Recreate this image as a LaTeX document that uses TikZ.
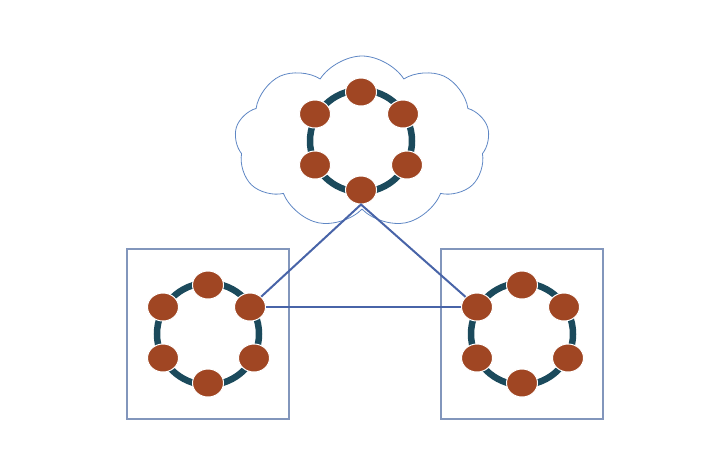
\documentclass[tikz,border=0pt]{standalone}
\usetikzlibrary{shapes, shapes.symbols, positioning}
\definecolor{peercolor}{RGB}{160, 70, 35}
\definecolor{ringcolor}{RGB}{27, 74, 92}
\definecolor{linkcolor}{RGB}{72, 100, 168}
\definecolor{boxcolor}{RGB}{130, 150, 188}
\definecolor{cloudcolor}{RGB}{95, 135, 196}
\tikzset{peer/.style={ellipse, draw=white, line width=1pt, fill=peercolor, minimum width=31pt, minimum height=28pt, inner sep=0pt}}
\tikzset{ring/.style={draw=ringcolor, line width=6.5pt}}
\tikzset{site/.style={draw=boxcolor, line width=1.2pt, fill=white, minimum width=162pt, minimum height=170pt}}
\tikzset{link/.style={draw=linkcolor, line width=2pt}}

\begin{document}
\begin{tikzpicture}[x=1pt, y=-1pt]
	\useasboundingbox (0,0) rectangle (725,475);
	
	%%% NODES %%%
	
	% CLOUD
	\node[cloud, cloud puffs=9, cloud puff arc=115, aspect=1.5, draw=cloudcolor, line width=0.8pt, minimum width=255pt, minimum height=172pt] at (362,142) (cloud) {};
	\draw[ring] (361,141) circle (51);
	\node[peer] at (361,92) (ctop) {};
	\node[peer] at (403,114) (cur) {};
	\node[peer] at (407,165) (clr) {};
	\node[peer] at (361,190) (cbot) {};
	\node[peer] at (315,165) (cll) {};
	\node[peer] at (315,114) (cul) {};
	
	% LEFT SITE
	\node[site] at (208,334) (leftsite) {};
	\draw[ring] (208,334) circle (51);
	\node[peer] at (208,285) (ltop) {};
	\node[peer] at (250,307) (lur) {};
	\node[peer] at (254,358) (llr) {};
	\node[peer] at (208,383) (lbot) {};
	\node[peer] at (163,358) (lll) {};
	\node[peer] at (163,307) (lul) {};
	
	% RIGHT SITE
	\node[site] at (522,334) (rightsite) {};
	\draw[ring] (522,334) circle (51);
	\node[peer] at (522,285) (rtop) {};
	\node[peer] at (564,307) (rur) {};
	\node[peer] at (568,358) (rlr) {};
	\node[peer] at (522,383) (rbot) {};
	\node[peer] at (477,358) (rll) {};
	\node[peer] at (477,307) (rul) {};
	
	%%% LINKS %%%
	
	\draw[link] (lur) -- (cbot.south) -- (rul);
	\draw[link] (lur) -- (rul);
	
\end{tikzpicture}
\end{document}
